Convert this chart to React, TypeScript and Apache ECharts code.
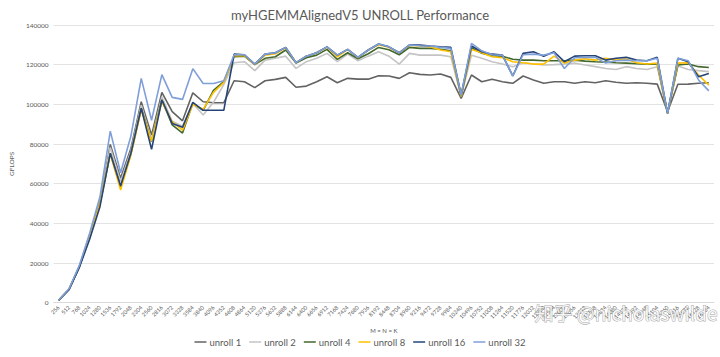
import React, { useEffect, useRef } from "react";
import * as echarts from "echarts";

const sizes: string[] = [];
for (let s = 256; s <= 16384; s += 256) sizes.push(String(s));

const unroll1 = [1200, 6800, 18100, 33500, 50500, 79800, 62700, 77800, 101300, 84500, 106000, 96300, 91700, 105800, 101300, 100800, 100800, 111900, 111400, 108400, 111900, 112600, 113600, 108600, 109200, 111400, 113900, 110900, 113100, 112700, 112700, 114400, 114300, 113100, 115900, 115100, 114800, 115300, 113600, 103000, 114800, 111400, 112700, 111400, 110600, 114300, 112300, 110600, 111400, 111400, 110600, 111400, 110900, 111900, 111100, 110600, 110900, 110600, 110200, 96300, 110100, 110200, 110600, 110900];
const unroll2 = [1200, 6800, 18300, 33800, 51000, 78300, 61000, 76500, 99600, 82000, 103800, 91500, 89000, 100500, 94600, 101000, 110000, 121000, 121500, 117000, 122300, 123200, 124300, 118100, 121500, 123200, 125700, 121500, 125300, 122000, 124300, 126500, 124300, 120300, 125700, 124800, 124800, 124800, 124000, 104000, 124800, 123200, 121500, 120300, 119000, 121000, 120300, 119800, 120000, 120300, 120800, 119800, 119000, 118100, 117600, 119000, 118100, 117600, 119000, 95800, 119300, 117600, 117000, 116500];
const unroll4 = [1200, 6800, 18100, 33300, 50000, 75300, 58500, 75000, 98000, 81200, 102200, 89600, 85500, 100500, 97000, 107000, 111400, 124000, 124300, 120000, 123200, 124000, 127400, 120800, 123500, 124800, 127700, 122700, 126000, 123000, 125500, 128700, 127500, 125000, 128700, 128200, 128200, 127800, 127000, 104000, 128500, 125800, 124500, 124300, 122700, 122300, 122300, 122000, 122000, 122000, 122300, 121800, 121500, 121300, 121000, 120800, 120500, 120300, 120300, 95500, 119800, 120300, 119000, 118600];
const unroll8 = [1200, 6800, 18100, 33000, 50000, 75000, 56800, 74500, 97100, 81500, 101300, 91200, 87000, 100000, 97500, 106000, 111000, 124500, 124500, 120000, 124800, 125500, 128500, 121000, 124300, 126000, 128800, 124000, 127700, 123500, 127400, 130000, 128800, 126000, 129800, 129500, 129000, 127400, 126500, 104000, 127700, 126000, 124000, 123500, 121500, 121000, 120300, 120300, 124300, 120800, 122300, 123000, 122300, 123200, 122300, 122800, 121000, 120300, 120800, 95500, 120800, 121000, 114800, 109700];
const unroll16 = [1200, 6500, 17800, 32000, 48400, 75300, 58800, 75300, 98000, 77300, 102200, 90400, 88400, 101000, 97000, 97000, 97000, 125300, 125000, 120300, 125300, 126000, 128700, 121000, 124300, 126000, 129000, 124800, 127700, 123700, 127400, 130400, 129000, 126000, 130000, 129900, 129400, 129000, 128700, 104700, 129400, 126500, 125300, 124800, 114300, 125700, 126500, 124300, 126500, 121500, 124300, 124500, 124500, 122300, 123200, 123700, 122300, 122000, 123700, 95400, 123200, 121500, 113900, 115600];
const unroll32 = [1200, 7000, 18800, 35000, 53400, 86500, 65500, 84000, 113100, 92000, 115000, 103500, 102500, 118000, 110500, 110500, 111900, 125000, 125000, 120300, 125300, 126000, 128700, 121000, 124300, 126000, 129000, 124800, 127700, 123700, 127400, 130400, 129000, 126000, 130000, 129500, 129400, 128700, 128200, 104700, 130700, 127000, 125000, 124800, 114300, 125000, 125300, 124800, 126000, 118100, 123500, 123700, 123700, 120800, 122000, 122300, 122000, 122000, 123200, 95400, 123200, 122000, 112300, 106800];

const seriesNames = ["unroll 1", "unroll 2", "unroll 4", "unroll 8", "unroll 16", "unroll 32"];
const seriesData = [unroll1, unroll2, unroll4, unroll8, unroll16, unroll32];
const seriesColors = ["#636363", "#c4c4c4", "#43682b", "#ffc000", "#264478", "#7f9fd8"];

const FONT = "Lato, 'Liberation Sans', sans-serif";

export default function App() {
  const ref = useRef<HTMLDivElement>(null);
  useEffect(() => {
    if (!ref.current) return;
    const chart = echarts.init(ref.current, undefined, { renderer: "svg" });
    chart.setOption({
      animation: false,
      backgroundColor: "#ffffff",
      textStyle: { fontFamily: FONT },
      title: {
        text: "myHGEMMAlignedV5 UNROLL Performance",
        left: "center",
        top: 3,
        textStyle: { fontSize: 13, fontWeight: "normal", color: "#595959", fontFamily: FONT },
      },
      legend: {
        data: seriesNames,
        bottom: 5,
        left: "center",
        icon: "rect",
        itemWidth: 12,
        itemHeight: 1.5,
        itemGap: 8,
        textStyle: { fontSize: 9.5, color: "#595959", fontFamily: FONT, padding: [0, 0, 0, -2] },
      },
      grid: { left: 39.5, right: 6, top: 25, bottom: 54.3, containLabel: false },
      xAxis: {
        type: "category",
        data: sizes,
        boundaryGap: true,
        name: "M = N = K",
        nameLocation: "middle",
        nameGap: 22,
        nameTextStyle: { fontSize: 6, color: "#595959" },
        axisLine: { lineStyle: { color: "#d9d9d9" } },
        axisTick: { show: false },
        axisLabel: { interval: 0, rotate: 45, fontSize: 5.5, color: "#595959", margin: 4 },
      },
      yAxis: {
        type: "value",
        min: 0,
        max: 140000,
        interval: 20000,
        name: "GFLOPS",
        nameLocation: "middle",
        nameGap: 27,
        nameRotate: 90,
        nameTextStyle: { fontSize: 6.5, color: "#595959" },
        axisLine: { show: false },
        axisTick: { show: false },
        splitLine: { lineStyle: { color: "#e3e3e3", width: 1 } },
        axisLabel: { fontSize: 6.5, color: "#595959", margin: 5, formatter: (v: number) => String(v) },
      },
      series: seriesNames.map((n, k) => ({
        name: n,
        type: "line",
        data: seriesData[k],
        showSymbol: false,
        symbol: "none",
        color: seriesColors[k],
        lineStyle: { width: 1.6, color: seriesColors[k] },
      })),
      graphic: [
        {
          type: "text",
          right: 2,
          top: 302,
          style: {
            text: "知乎 @nicholaswilde",
            fontSize: 19,
            fontFamily: "'Noto Sans CJK SC', 'Noto Sans', sans-serif",
            fill: "rgba(255,255,255,0.85)",
            stroke: "rgba(110,110,110,0.6)",
            lineWidth: 1,
          },
          z: 100,
        },
      ],
    });
    return () => chart.dispose();
  }, []);
  return <div ref={ref} style={{ width: 720, height: 357, position: "absolute", left: 0, top: 0 }} />;
}
